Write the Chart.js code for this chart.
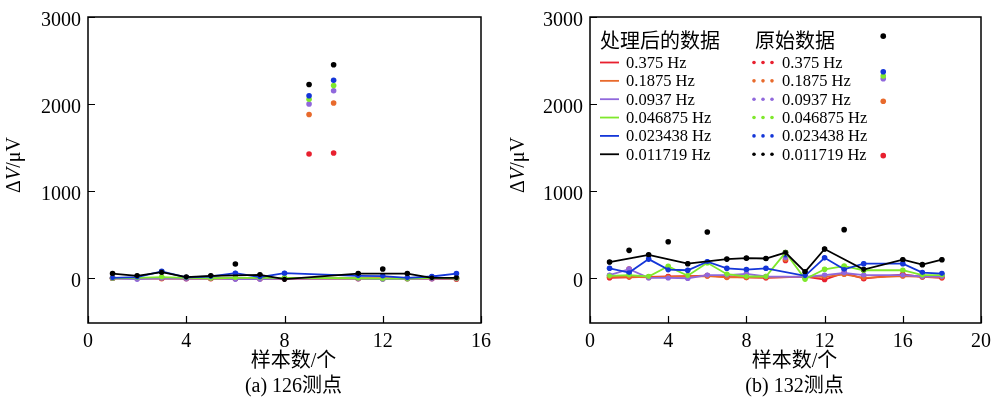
<!DOCTYPE html>
<html>
<head>
<meta charset="utf-8">
<script src="https://cdn.jsdelivr.net/npm/chart.js@4.4.1/dist/chart.umd.min.js"></script>
<style>
  html, body { margin: 0; padding: 0; background: #fff; }
  #wrap { display: flex; width: 1000px; height: 397px; }
  canvas { display: block; }
</style>
</head>
<body>
<div id="wrap">
  <canvas id="chartA" width="500" height="397"></canvas>
  <canvas id="chartB" width="500" height="397"></canvas>
</div>
<script>
// frequencies, in the same order as the colours below
const freqLabels = ["0.375 Hz", "0.1875 Hz", "0.0937 Hz", "0.046875 Hz", "0.023438 Hz", "0.011719 Hz"];
const lineColors = ["#e8202f", "#e86a2c", "#9068dc", "#7fe82c", "#1436d8", "#000000"];

const yTicks = [0, 1000, 2000, 3000];
const xTicksA = [0, 4, 8, 12, 16];
const xTicksB = [0, 4, 8, 12, 16, 20];

// (a) 126 测点
const samplesA = [1, 2, 3, 4, 5, 6, 7, 8, 9, 10, 11, 12, 13, 14, 15];
const rawA_0375    = [-5, -5, -5, -10, -10, -10, -10, -10, 1424, 1435, -10, -10, -10, -10, -15];
const rawA_01875   = [-5, -5, -10, -5, -5, -5, -10, -10, 1879, 2011, -5, -5, -5, -5, -15];
const rawA_00937   = [-5, -15, -5, -10, -5, -15, -15, -10, 2000, 2151, -10, -15, -10, -10, -10];
const rawA_0046875 = [-5, 0, 8, 0, -5, 0, 0, 0, 2053, 2212, -5, -10, -10, 0, -5];
const rawA_0023438 = [0, 8, 74, 4, 15, 53, 8, 53, 2094, 2273, 23, 19, 0, 15, 49];
const rawA_0011719 = [49, 23, 65, 8, 23, 159, 34, -15, 2224, 2451, 49, 102, 49, 0, 0];
const procA_0375    = [-5, -5, -5, -10, -10, -10, -10, -10, null, null, -10, -10, -10, -10, -15];
const procA_01875   = [-5, -5, -10, -5, -5, -5, -10, -10, null, null, -5, -5, -5, -5, -15];
const procA_00937   = [-5, -15, -5, -10, -5, -15, -15, -10, null, null, -10, -15, -10, -10, -10];
const procA_0046875 = [-5, 0, 8, 0, -5, 0, 0, 0, null, null, -5, -10, -10, 0, -5];
const procA_0023438 = [0, 8, 74, 4, 15, 53, 8, 53, null, null, 23, 19, 0, 15, 49];
const procA_0011719 = [49, 23, 65, 8, 23, null, 34, -15, null, null, 49, null, 49, 0, 0];

// (b) 132 测点
const samplesB = [1, 2, 3, 4, 5, 6, 7, 8, 9, 10, 11, 12, 13, 14, 15, 16, 17, 18];
const rawB_0375    = [0, 100, 10, 15, 20, 25, 10, 5, 0, 200, 15, -20, 55, -10, 1405, 40, 10, 0];
const rawB_01875   = [10, 10, 5, 10, 15, 20, 5, 5, 5, 215, 10, 10, 40, 0, 2030, 20, 10, 5];
const rawB_00937   = [30, 100, 0, 0, -5, 30, 30, 45, 15, 235, 10, 30, 55, 30, 2290, 30, 15, 15];
const rawB_0046875 = [23, 30, 15, 132, 23, 173, 41, 15, 15, 290, -15, 98, 135, 87, 2320, 87, 30, 30];
const rawB_0023438 = [109, 60, 215, 94, 87, 185, 109, 94, 109, 265, 23, 230, 98, 162, 2370, 162, 60, 49];
const rawB_0011719 = [181, 316, 264, 414, 162, 527, 215, 226, 222, 290, 68, 331, 554, 94, 2780, 208, 151, 208];
const procB_0375    = [0, 5, 10, 15, 20, 25, 10, 5, 0, null, 15, -20, 55, -10, null, 40, 10, 0];
const procB_01875   = [10, 10, 5, 10, 15, 20, 5, 5, 5, null, 10, 10, 40, 0, null, 20, 10, 5];
const procB_00937   = [30, 100, 0, 0, -5, 30, 30, 45, 15, null, 10, 30, 55, 30, null, 30, 15, 15];
const procB_0046875 = [23, 30, 15, 132, 23, 173, 41, 15, 15, 290, -15, 98, 135, 87, null, 87, 30, 30];
const procB_0023438 = [109, 60, 215, 94, 87, 185, 109, 94, 109, null, 23, 230, 98, 162, null, 162, 60, 49];
const procB_0011719 = [181, null, 264, null, 162, null, 215, 226, 222, 290, 68, 331, null, 94, null, 208, 151, 208];

const SERIF = "'Liberation Serif', 'Times New Roman', 'Noto Sans CJK SC', serif";
const CJK = "'Noto Sans CJK SC', sans-serif";

const pts = (xs, ys) => xs.map((x, i) => ({ x, y: ys[i] }));

// frame, inward ticks, axis titles and the two-column legend
const decor = {
  id: "decor",
  afterDraw(chart, _args, o) {
    const { ctx, chartArea: ca, scales } = chart;
    ctx.save();
    ctx.strokeStyle = "#000";
    ctx.lineWidth = 1.5;
    ctx.strokeRect(ca.left, ca.top, ca.right - ca.left, ca.bottom - ca.top);
    ctx.lineWidth = 1.2;
    ctx.beginPath();
    o.xTicks.forEach(v => {
      const px = Math.round(scales.x.getPixelForValue(v)) + 0.5;
      ctx.moveTo(px, ca.bottom); ctx.lineTo(px, ca.bottom - 7);
    });
    yTicks.forEach(v => {
      const py = Math.round(scales.y.getPixelForValue(v)) + 0.5;
      ctx.moveTo(ca.left, py); ctx.lineTo(ca.left + 7, py);
    });
    ctx.stroke();

    // y title: ΔV/μV with italic V
    ctx.fillStyle = "#000";
    ctx.textBaseline = "middle";
    ctx.textAlign = "left";
    const parts = [["Δ", ""], ["V", "italic "], ["/μV", ""]];
    let total = 0;
    parts.forEach(p => { ctx.font = p[1] + "20px " + SERIF; total += ctx.measureText(p[0]).width; });
    ctx.translate(o.yTitleX, (ca.top + ca.bottom) / 2 - 5);
    ctx.rotate(-Math.PI / 2);
    let x = -total / 2;
    parts.forEach(p => {
      ctx.font = p[1] + "20px " + SERIF;
      ctx.fillText(p[0], x, 0);
      x += ctx.measureText(p[0]).width;
    });
    ctx.setTransform(1, 0, 0, 1, 0, 0);

    // x title and caption
    const cx = (ca.left + ca.right) / 2 + 9;
    ctx.textAlign = "center";
    ctx.font = "20px " + SERIF;
    ctx.fillText("样本数/个", cx, 362);
    ctx.fillText(o.caption, cx, 387);

    if (o.legend) {
      const lx = ca.left;
      ctx.textAlign = "left";
      ctx.font = "20px " + CJK;
      ctx.fillText("处理后的数据", lx + 10, 40);
      ctx.fillText("原始数据", lx + 165, 40);
      ctx.font = "16.5px " + SERIF;
      freqLabels.forEach((f, i) => {
        const y = 62.5 + i * 18.35;
        ctx.strokeStyle = lineColors[i];
        ctx.lineWidth = 1.8;
        ctx.beginPath(); ctx.moveTo(lx + 10, y); ctx.lineTo(lx + 29, y); ctx.stroke();
        ctx.fillStyle = "#000";
        ctx.fillText(f, lx + 36, y + 1);
        ctx.fillStyle = lineColors[i];
        [164, 173, 182].forEach(d => { ctx.beginPath(); ctx.arc(lx + d, y, 1.8, 0, Math.PI * 2); ctx.fill(); });
        ctx.fillStyle = "#000";
        ctx.fillText(f, lx + 192, y + 1);
      });
    }
    ctx.restore();
  }
};

function buildChart(id, o) {
  const datasets = [];
  for (let i = 5; i >= 0; i--) {
    datasets.push({
      type: "line", label: freqLabels[i] + " 处理后",
      data: pts(o.xs, o.proc[i]),
      borderColor: lineColors[i], backgroundColor: lineColors[i],
      pointBackgroundColor: lineColors[i],
      borderWidth: 1.8, pointRadius: 2.4, pointBorderWidth: 0,
      spanGaps: true, tension: 0, fill: false
    });
  }
  for (let i = 5; i >= 0; i--) {
    datasets.push({
      type: "scatter", label: freqLabels[i] + " 原始",
      data: pts(o.xs, o.raw[i]),
      backgroundColor: lineColors[i], borderColor: lineColors[i],
      pointRadius: 2.8, pointBorderWidth: 0, showLine: false
    });
  }
  return new Chart(document.getElementById(id), {
    type: "scatter",
    data: { datasets },
    plugins: [decor],
    options: {
      responsive: false, animation: false, devicePixelRatio: 1,
      layout: { padding: { left: 0, right: 500 - o.right, top: 12, bottom: 0 } },
      plugins: { legend: { display: false }, tooltip: { enabled: false }, decor: o },
      scales: {
        x: {
          type: "linear", min: 0, max: o.xMax,
          afterBuildTicks: s => { s.ticks = o.xTicks.map(v => ({ value: v })); },
          afterFit: s => { s.height = 74; },
          grid: { display: false, drawTicks: false },
          border: { display: false },
          ticks: { color: "#000", font: { family: SERIF, size: 20, lineHeight: 1 }, padding: 9, maxRotation: 0, autoSkip: false, callback: v => String(v) }
        },
        y: {
          type: "linear", min: -520, max: 3000,
          afterBuildTicks: s => { s.ticks = yTicks.map(v => ({ value: v })); },
          afterFit: s => { s.width = o.left; },
          grid: { display: false, drawTicks: false },
          border: { display: false },
          ticks: { color: "#000", font: { family: SERIF, size: 20, lineHeight: 1 }, padding: 7, labelOffset: 4, callback: v => String(v) }
        }
      }
    }
  });
}

buildChart("chartA", {
  xs: samplesA, xMax: 16, xTicks: xTicksA, left: 88, right: 485,
  yTitleX: 15, caption: "(a) 126测点", legend: false,
  raw: [rawA_0375, rawA_01875, rawA_00937, rawA_0046875, rawA_0023438, rawA_0011719],
  proc: [procA_0375, procA_01875, procA_00937, procA_0046875, procA_0023438, procA_0011719]
});
buildChart("chartB", {
  xs: samplesB, xMax: 20, xTicks: xTicksB, left: 90, right: 487,
  yTitleX: 19, caption: "(b) 132测点", legend: true,
  raw: [rawB_0375, rawB_01875, rawB_00937, rawB_0046875, rawB_0023438, rawB_0011719],
  proc: [procB_0375, procB_01875, procB_00937, procB_0046875, procB_0023438, procB_0011719]
});
</script>
</body>
</html>
